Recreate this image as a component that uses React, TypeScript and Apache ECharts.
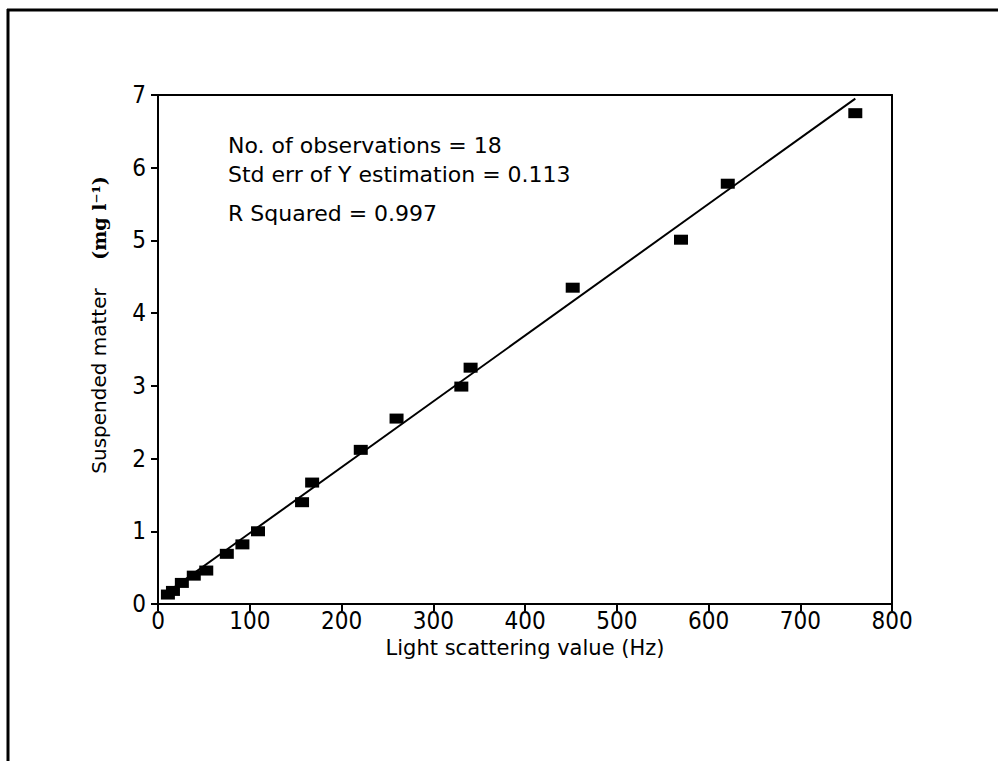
import React, { useEffect, useRef } from "react";
import * as echarts from "echarts";

const lightScattering = [10.8, 16.3, 26, 39, 52.6, 75, 92, 109, 157, 168, 221, 260, 330.6, 340.7, 452, 570, 621, 760];
const suspendedMatter = [0.13, 0.18, 0.29, 0.39, 0.46, 0.69, 0.82, 1.0, 1.4, 1.67, 2.12, 2.55, 2.99, 3.25, 4.35, 5.01, 5.78, 6.75];
const fitX = [10, 760];
const fitY = [0.16, 6.95];
const statLines = [
  "No. of observations = 18",
  "Std err of Y estimation = 0.113",
  "R Squared = 0.997",
];
const yTitle = "Suspended matter";
const yUnit = "(mg l⁻¹)";

const FONT = "DejaVu Sans";
const TICK_FONT = "Liberation Sans Narrow, DejaVu Sans Condensed, DejaVu Sans";

export default function App() {
  const ref = useRef<HTMLDivElement>(null);
  useEffect(() => {
    if (!ref.current) return;
    const chart = echarts.init(ref.current, null, { renderer: "svg" });
    const statStyle = (text: string) => ({
      text,
      fontFamily: FONT,
      fontSize: 22,
      fill: "#000",
      verticalAlign: "middle",
    });
    chart.setOption({
      animation: false,
      backgroundColor: "#ffffff",
      grid: { left: 158, right: 106, top: 95, bottom: 157, show: false },
      xAxis: [
        {
          type: "value",
          min: 0,
          max: 800,
          interval: 100,
          name: "Light scattering value (Hz)",
          nameLocation: "middle",
          nameGap: 30,
          nameTextStyle: { fontFamily: FONT, fontSize: 21, color: "#000" },
          axisLine: { show: true, onZero: false, lineStyle: { color: "#000", width: 2 } },
          axisTick: { show: true, length: 7, lineStyle: { color: "#000", width: 2 } },
          axisLabel: { fontFamily: TICK_FONT, fontSize: 24, color: "#000", margin: 5 },
          splitLine: { show: false },
        },
        {
          type: "value",
          position: "top",
          min: 0,
          max: 800,
          axisLine: { show: true, onZero: false, lineStyle: { color: "#000", width: 2 } },
          axisTick: { show: false },
          axisLabel: { show: false },
          splitLine: { show: false },
        },
      ],
      yAxis: [
        {
          type: "value",
          min: 0,
          max: 7,
          interval: 1,
          axisLine: { show: true, onZero: false, lineStyle: { color: "#000", width: 2 } },
          axisTick: { show: true, length: 7, lineStyle: { color: "#000", width: 2 } },
          axisLabel: { fontFamily: TICK_FONT, fontSize: 24, color: "#000", margin: 12 },
          splitLine: { show: false },
        },
        {
          type: "value",
          position: "right",
          min: 0,
          max: 7,
          axisLine: { show: true, onZero: false, lineStyle: { color: "#000", width: 2 } },
          axisTick: { show: false },
          axisLabel: { show: false },
          splitLine: { show: false },
        },
      ],
      series: [
        {
          type: "line",
          data: fitX.map((x, i) => [x, fitY[i]]),
          showSymbol: false,
          symbol: "none",
          lineStyle: { color: "#000", width: 2 },
          z: 2,
        },
        {
          type: "scatter",
          data: lightScattering.map((x, i) => [x, suspendedMatter[i]]),
          symbol: "rect",
          symbolSize: [14, 10],
          itemStyle: { color: "#000", opacity: 1 },
          z: 3,
        },
      ],
      graphic: [
        {
          type: "line",
          shape: { x1: 7, y1: 10, x2: 998, y2: 10 },
          style: { stroke: "#000", lineWidth: 3 },
        },
        {
          type: "line",
          shape: { x1: 8, y1: 9, x2: 8, y2: 761 },
          style: { stroke: "#000", lineWidth: 3 },
        },
        { type: "text", x: 228, y: 145, style: statStyle(statLines[0]) },
        { type: "text", x: 228, y: 174, style: statStyle(statLines[1]) },
        { type: "text", x: 228, y: 213, style: statStyle(statLines[2]) },
        {
          type: "text",
          x: 99,
          y: 381,
          rotation: Math.PI / 2,
          style: {
            text: yTitle,
            align: "center",
            verticalAlign: "middle",
            fontFamily: FONT,
            fontSize: 20,
            fill: "#000",
          },
        },
        {
          type: "text",
          x: 99,
          y: 218,
          rotation: Math.PI / 2,
          style: {
            text: yUnit,
            align: "center",
            verticalAlign: "middle",
            fontFamily: "DejaVu Serif",
            fontWeight: "bold",
            fontSize: 19,
            fill: "#000",
          },
        },
      ],
    });
    return () => chart.dispose();
  }, []);
  return (
    <div
      ref={ref}
      style={{ position: "absolute", left: 0, top: 0, width: 998, height: 761 }}
    />
  );
}
